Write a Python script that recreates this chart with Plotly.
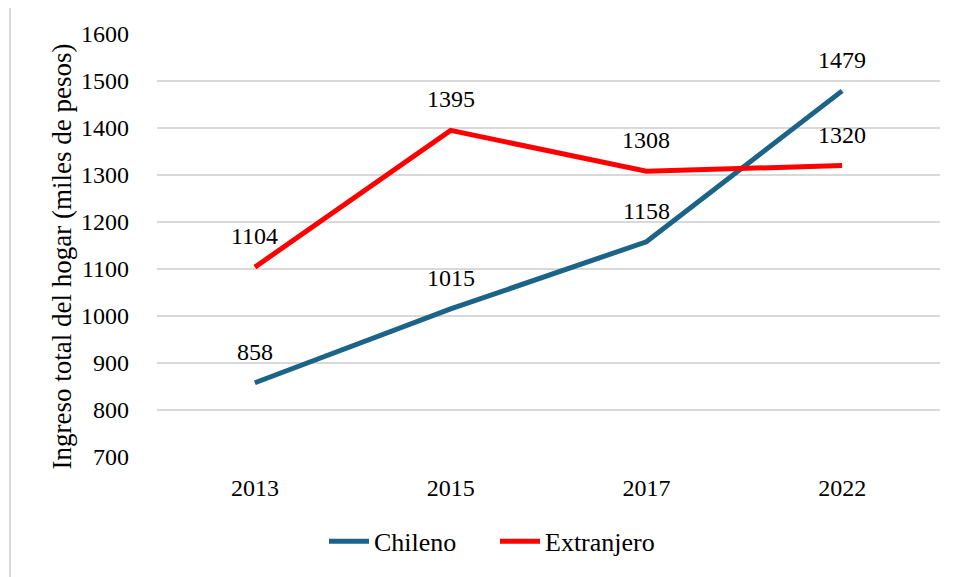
import plotly.graph_objects as go

years = ["2013", "2015", "2017", "2022"]
chileno = [858, 1015, 1158, 1479]
extranjero = [1104, 1395, 1308, 1320]
series_names = ["Chileno", "Extranjero"]
y_title = "Ingreso total del hogar (miles de pesos)"

FONT = "Liberation Serif, Times New Roman, serif"
colors = ["#1B6488", "#FF0000"]

fig = go.Figure()
for name, vals, col in zip(series_names, [chileno, extranjero], colors):
    fig.add_trace(go.Scatter(x=years, y=vals, mode="lines", name=name,
                             line=dict(color=col, width=5)))
    for i, yv in enumerate(vals):
        fig.add_annotation(x=i, y=yv, xref="x", yref="y", text=str(yv),
                           showarrow=False, yanchor="middle", yshift=31,
                           font=dict(family=FONT, size=24, color="#000000"))

OFF = 8  # page body margin
W, H = 958, 577
px_left, px_right, px_top, px_bottom = 157, 940, 33.5, 456.7  # page pixels
L = px_left - OFF
T = px_top - OFF
R = W - (px_right - OFF)
B = H - (px_bottom - OFF)
pw, ph = px_right - px_left, px_bottom - px_top


def xp(px):
    return (px - px_left) / pw


def yp(py):
    return (px_bottom - py) / ph


fig.add_shape(type="rect", xref="paper", yref="paper",
              x0=xp(10), x1=xp(980), y0=yp(600), y1=yp(5),
              line=dict(color="#D9D9D9", width=2), fillcolor="rgba(0,0,0,0)",
              layer="below")

fig.add_annotation(xref="paper", yref="paper", x=xp(62), y=yp(256),
                   text=y_title, textangle=-90,
                   showarrow=False, xanchor="center", yanchor="middle",
                   font=dict(family=FONT, size=27, color="#000000"))

fig.update_layout(
    width=W, height=H,
    margin=dict(l=L, r=R, t=T, b=B, autoexpand=False),
    paper_bgcolor="white", plot_bgcolor="white",
    font=dict(family=FONT, size=24, color="#000000"),
    showlegend=True,
    legend=dict(orientation="h", x=xp(495), xanchor="center",
                y=yp(541), yanchor="middle",
                font=dict(family=FONT, size=26), itemwidth=40,
                entrywidth=116, entrywidthmode="pixels",
                bgcolor="rgba(0,0,0,0)"),
)
fig.update_xaxes(type="category", range=[-0.5, 3.5], automargin=False,
                 showgrid=False, showline=False, zeroline=False, ticks="",
                 ticklabelstandoff=14, tickfont=dict(size=24))
fig.update_yaxes(range=[700, 1600], dtick=100, showgrid=True, automargin=False,
                 gridcolor="#D9D9D9", gridwidth=1.5, zeroline=False,
                 showline=False, ticks="", ticklabelstandoff=27,
                 tickfont=dict(size=24))

fig.write_html("out.html")
